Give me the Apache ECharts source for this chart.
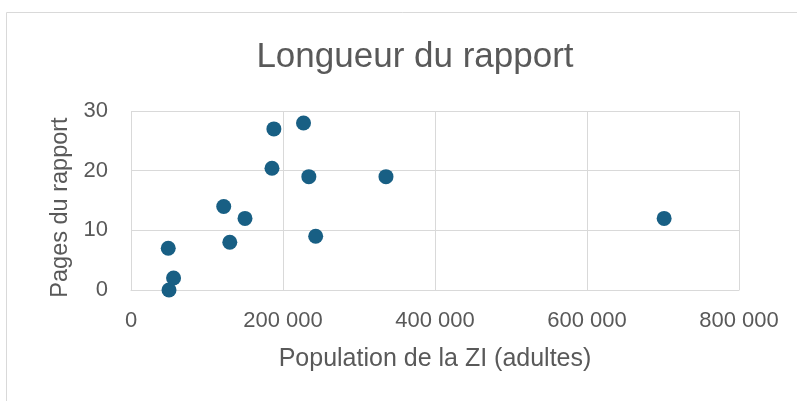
<!DOCTYPE html>
<html lang="fr">
<head>
    <meta charset="UTF-8">
    <title>Longueur du rapport</title>
    <script src="https://cdn.jsdelivr.net/npm/echarts@6/dist/echarts.min.js"></script>
</head>
<style>
html,body{margin:0;padding:0;background-color:#fff}
#chartBox{width:797px;height:401px}
</style>
<body>
    <div id="chartBox"></div>
</body>
<script>
// population (adultes) de la ZI
const population = [50000, 49000, 56000, 122000, 130000, 150000, 185500, 188000, 227000, 234000, 243000, 335500, 701500];
// pages du rapport
const pages = [0, 7, 2, 14, 8, 12, 20.4, 27, 28, 19, 9, 19, 12];
const xTicks = [0, 200000, 400000, 600000, 800000];
const yTicks = [0, 10, 20, 30];

const FONT = "'Liberation Sans', Arial, sans-serif";
const TEXT = '#595959';

function fmtNum(v){
    return String(v).replace(/\B(?=(\d{3})+(?!\d))/g, ' ');
}

let chartObj = echarts.init(document.getElementById('chartBox'));
chartObj.setOption({
    animation: false,
    graphic: [{
        type: 'rect',
        shape: {x: 6.5, y: 12.5, width: 820, height: 420},
        style: {fill: 'none', stroke: '#d9d9d9', lineWidth: 1}
    }],
    title: {
        text: 'Longueur du rapport',
        left: 410,
        textAlign: 'center',
        top: 35,
        textStyle: {fontSize: 35, fontWeight: 'normal', color: TEXT, fontFamily: FONT}
    },
    grid: {left: 131, right: 58, top: 111, bottom: 111},
    xAxis: {
        type: 'value',
        min: xTicks[0],
        max: xTicks[xTicks.length - 1],
        interval: 200000,
        name: 'Population de la ZI (adultes)',
        nameLocation: 'middle',
        nameGap: 57,
        nameTextStyle: {fontSize: 25, color: TEXT, fontFamily: FONT},
        axisLine: {show: true, lineStyle: {color: '#d9d9d9'}},
        axisTick: {show: false},
        axisLabel: {fontSize: 22, color: TEXT, fontFamily: FONT, margin: 20, formatter: fmtNum},
        splitLine: {show: true, lineStyle: {color: '#d9d9d9'}}
    },
    yAxis: {
        type: 'value',
        min: yTicks[0],
        max: yTicks[yTicks.length - 1],
        interval: 10,
        name: 'Pages du rapport',
        nameLocation: 'middle',
        nameGap: 58,
        nameTextStyle: {fontSize: 23.5, color: TEXT, fontFamily: FONT, padding: [0, 14, 0, 0]},
        axisLine: {show: false},
        axisTick: {show: false},
        axisLabel: {fontSize: 22, color: TEXT, fontFamily: FONT, margin: 23},
        splitLine: {show: true, lineStyle: {color: '#d9d9d9'}}
    },
    series: [{
        type: 'scatter',
        symbol: 'circle',
        symbolSize: 15,
        itemStyle: {color: '#185f84', opacity: 1},
        data: population.map((p, i) => [p, pages[i]])
    }]
});
</script>
</html>
